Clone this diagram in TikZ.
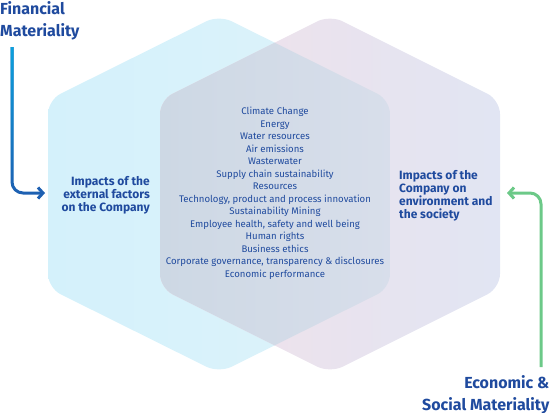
\documentclass[tikz,border=0pt]{standalone}
\usepackage{fontspec}
\setmainfont{Fira Sans}
\usetikzlibrary{arrows.meta,fadings,calc}
\definecolor{txtblue}{RGB}{31,74,158}
\definecolor{cyanL}{RGB}{212,241,251}
\definecolor{cyanR}{RGB}{222,243,250}
\definecolor{pinkL}{RGB}{242,225,233}
\definecolor{pinkR}{RGB}{225,229,243}
\definecolor{ovL}{RGB}{205,216,228}
\definecolor{ovR}{RGB}{221,225,238}
\definecolor{arrowblueA}{RGB}{10,162,222}
\definecolor{arrowblueB}{RGB}{30,96,178}
\definecolor{arrowgreen}{RGB}{108,201,136}
\tikzfading[name=fadedown, top color=transparent!0, bottom color=transparent!100]
\tikzset{
  heading/.style={font=\bfseries\fontsize{16}{21.5}\selectfont, text=txtblue, inner sep=0pt},
  sidetext/.style={font=\bfseries\fontsize{12}{13}\selectfont, text=txtblue, inner sep=0pt},
  listtext/.style={font=\fontsize{9.6}{12.5}\selectfont, text=txtblue, inner sep=0pt, align=center},
  conn/.style={line width=3pt, rounded corners=11pt},
}
\begin{document}
\begin{tikzpicture}[x=1pt,y=-1pt]
\useasboundingbox (0,0) rectangle (550,413);
% left hexagon
\shade[left color=cyanL, right color=cyanR, rounded corners=14pt]
  (48,194) -- (48,100) -- (219,15) -- (390,100) -- (390,288) -- (219,373) -- (48,288) -- cycle;
% right hexagon
\shade[left color=pinkL, right color=pinkR, rounded corners=14pt]
  (160,194) -- (160,100) -- (330,15) -- (500,100) -- (500,288) -- (330,373) -- (160,288) -- cycle;
% overlap
\begin{scope}
  \clip[rounded corners=14pt]
    (48,194) -- (48,100) -- (219,15) -- (390,100) -- (390,288) -- (219,373) -- (48,288) -- cycle;
  \shade[left color=ovL, right color=ovR, rounded corners=14pt]
    (160,194) -- (160,100) -- (330,15) -- (500,100) -- (500,288) -- (330,373) -- (160,288) -- cycle;
\end{scope}
% headings
\node[heading, anchor=north west, align=left] (fin) at (0,1.5) {Financial\\Materiality};
\node[heading, anchor=south east, align=right] (eco) at (549.5,414) {Economic \&\\Social Materiality};
% side texts
\node[sidetext, anchor=east, align=right] (ext) at (150,195) {Impacts of the\\external factors\\on the Company};
\node[sidetext, anchor=west, align=left] (comp) at (399,195.5) {Impacts of the\\Company on\\environment and\\the society};
% list
\node[listtext] (list) at (275,193.5) {Climate Change\\Energy\\Water resources\\Air emissions\\Wasterwater\\Supply chain sustainability\\Resources\\Technology, product and process innovation\\Sustainability Mining\\Employee health, safety and well being\\Human rights\\Business ethics\\Corporate governance, transparency \& disclosures\\Economic performance};
% connectors
\coordinate (fstart) at (12,47);
\coordinate (ftip) at (45,193);
\coordinate (fmid) at (39,193);
\coordinate (estart) at (541,367);
\coordinate (etip) at (507,193);
\draw[conn, arrowblueB, -{Straight Barb[length=5pt,width=11pt]}] (fstart) |- (ftip);
\draw[conn, arrowblueA, path fading=fadedown] (fstart) |- (fmid);
\draw[conn, arrowgreen, -{Straight Barb[length=5pt,width=11pt]}] (estart) |- (etip);
\end{tikzpicture}
\end{document}
